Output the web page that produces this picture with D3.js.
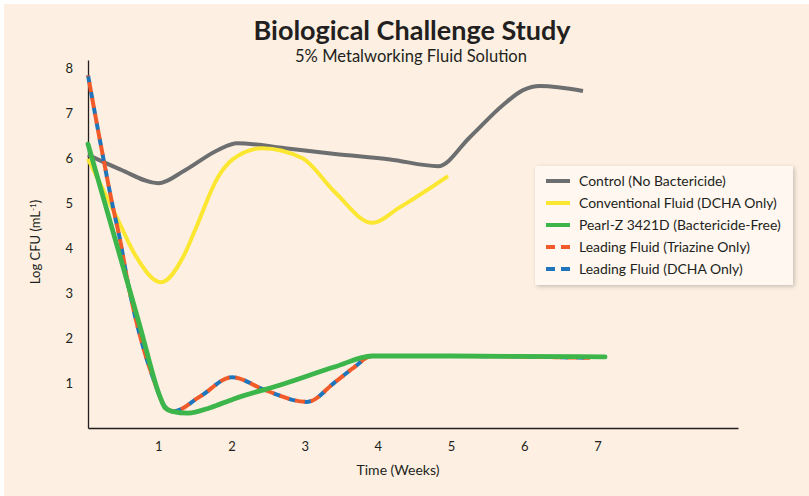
<!DOCTYPE html>
<html><head><meta charset="utf-8">
<script src="https://cdn.jsdelivr.net/npm/d3@7"></script>
<style>
html,body{margin:0;padding:0;background:#fff;}
svg{display:block;font-family:Lato,"Open Sans",sans-serif;}
</style></head>
<body>
<svg id="chart" width="809" height="496"></svg>
<script>
// ---- data (weeks, Log CFU) ----
const weekTicks = [1,2,3,4,5,6,7];
const yTicks = [1,2,3,4,5,6,7,8];
const seriesNames = ["Control (No Bactericide)","Conventional Fluid (DCHA Only)","Pearl-Z 3421D (Bactericide-Free)","Leading Fluid (Triazine Only)","Leading Fluid (DCHA Only)"];
const seriesColors = ["#6d6e70","#fbe731","#3cb54a","#f15a29","#1f75bc"];
const control = [[0.04,6.07],[0.478,5.75],[1.0,5.44],[1.366,5.73],[1.817,6.18],[2.077,6.33],[2.732,6.22],[3.415,6.09],[4.167,5.97],[4.822,5.82],[5.26,6.47],[5.71,7.18],[5.984,7.51],[6.216,7.6],[6.803,7.49]];
const conventional = [[0.04,5.98],[0.451,4.62],[0.683,3.85],[1.038,3.24],[1.339,3.8],[1.503,4.4],[1.817,5.58],[2.008,5.96],[2.418,6.22],[2.964,6.0],[3.415,5.24],[3.921,4.56],[4.303,4.91],[4.959,5.6]];
const pearlZ = [[0.04,6.31],[0.451,3.97],[0.75,2.26],[1.025,0.69],[1.093,0.45],[1.189,0.37],[1.407,0.33],[1.708,0.45],[2.022,0.64],[2.732,0.99],[3.415,1.36],[3.921,1.6],[5.0,1.6],[7.104,1.58]];
const leadingTriazine = [[0.04,7.84],[0.228,6.18],[0.369,5.0],[0.478,4.18],[0.587,3.21],[0.956,0.99],[1.093,0.47],[1.202,0.37],[1.571,0.7],[2.008,1.13],[2.459,0.84],[3.033,0.58],[3.415,1.02],[3.661,1.33],[3.921,1.6],[5.0,1.6],[6.899,1.56]];
const leadingDCHA = [[0.04,7.84],[0.228,6.18],[0.369,5.0],[0.478,4.18],[0.587,3.21],[0.956,0.99],[1.093,0.47],[1.202,0.37],[1.571,0.7],[2.008,1.13],[2.459,0.84],[3.033,0.58],[3.415,1.02],[3.661,1.33],[3.921,1.6],[5.0,1.6],[6.899,1.56]];

const svg = d3.select("#chart");
const ink = "#231f20";

// background panel
svg.append("rect").attr("x",4).attr("y",4).attr("width",805).attr("height",492).attr("fill","#fdf0e2");

const x = d3.scaleLinear().domain([0.04, 8.92]).range([88, 738]);
const y = d3.scaleLinear().domain([0, 8.18]).range([428, 60]);

function fitText(sel, target){
  const w = sel.node().getComputedTextLength();
  const fs = parseFloat(sel.attr("font-size"));
  sel.attr("font-size", (fs*target/w).toFixed(2));
}

// titles
const t1 = svg.append("text").attr("x",412).attr("y",40).attr("text-anchor","middle")
  .attr("font-size",25).attr("font-weight",700).attr("fill",ink).text("Biological Challenge Study");
fitText(t1, 317);
const t2 = svg.append("text").attr("x",411).attr("y",62).attr("text-anchor","middle")
  .attr("font-size",15).attr("fill",ink).text("5% Metalworking Fluid Solution");
fitText(t2, 232);

// axes
const xAxis = d3.axisBottom(x).tickValues(weekTicks).tickSize(0).tickPadding(14).tickFormat(d3.format("d"));
const gx = svg.append("g").attr("transform",`translate(0,${y(0)})`).call(xAxis);
gx.select(".domain").attr("stroke",ink).attr("stroke-width",1.3);
gx.selectAll("text").attr("font-size",13).attr("fill",ink).attr("font-family","Lato,sans-serif");

const yAxis = d3.axisLeft(y).tickValues(yTicks).tickSize(0).tickPadding(15).tickFormat(d3.format("d"));
const gy = svg.append("g").attr("transform",`translate(${x(0.04)},0)`).call(yAxis);
gy.select(".domain").attr("stroke",ink).attr("stroke-width",1.3);
gy.selectAll("text").attr("font-size",13).attr("fill",ink).attr("font-family","Lato,sans-serif");

svg.append("text").attr("x",398).attr("y",475).attr("text-anchor","middle")
  .attr("font-size",14).attr("fill",ink).text("Time (Weeks)");
const yl = svg.append("text").attr("transform","translate(40,242) rotate(-90)").attr("text-anchor","middle")
  .attr("font-size",13).attr("fill",ink);
yl.append("tspan").text("Log CFU (mL");
yl.append("tspan").attr("dy",-4).attr("font-size",8).text("-1");
yl.append("tspan").attr("dy",4).text(")");

// lines
const line = d3.line().x(d=>x(d[0])).y(d=>y(d[1])).curve(d3.curveMonotoneX);
const plot = svg.append("g").attr("fill","none").attr("stroke-linecap","butt");
plot.append("path").datum(control).attr("d",line).attr("stroke",seriesColors[0]).attr("stroke-width",4);
plot.append("path").datum(conventional).attr("d",line).attr("stroke",seriesColors[1]).attr("stroke-width",4);
plot.append("path").datum(leadingDCHA).attr("d",line).attr("stroke",seriesColors[4]).attr("stroke-width",4)
  .attr("stroke-dasharray","8,8");
plot.append("path").datum(leadingTriazine).attr("d",line).attr("stroke",seriesColors[3]).attr("stroke-width",4)
  .attr("stroke-dasharray","10,6").attr("stroke-dashoffset",9);
plot.append("path").datum(pearlZ).attr("d",line).attr("stroke",seriesColors[2]).attr("stroke-width",4.8)
  .attr("stroke-linecap","round");

// legend
const defs = svg.append("defs");
const f = defs.append("filter").attr("id","sh").attr("x","-10%").attr("y","-10%").attr("width","130%").attr("height","140%");
f.append("feDropShadow").attr("dx",1.5).attr("dy",1.5).attr("stdDeviation",2).attr("flood-color","#000").attr("flood-opacity",0.22);
const lg = svg.append("g");
lg.append("rect").attr("x",535).attr("y",166).attr("width",258).attr("height",119)
  .attr("fill","#fff7f0").attr("filter","url(#sh)");
const dashes = [null,null,null,"9,6","9,6"];
seriesNames.forEach((name,i)=>{
  const yy = 181 + i*22;
  lg.append("line").attr("x1",546).attr("x2",570).attr("y1",yy).attr("y2",yy)
    .attr("stroke",seriesColors[i]).attr("stroke-width",4).attr("stroke-dasharray",dashes[i]);
  lg.append("text").attr("class","lt").attr("x",579).attr("y",yy+4.5).attr("font-size",13.5).attr("fill",ink).text(name);
});
const ref = lg.selectAll("text.lt").filter((d,i)=>i===1);
const w = ref.node().getComputedTextLength();
const fs = 13.5*198/w;
lg.selectAll("text.lt").attr("font-size",fs.toFixed(2));
</script>
</body></html>
